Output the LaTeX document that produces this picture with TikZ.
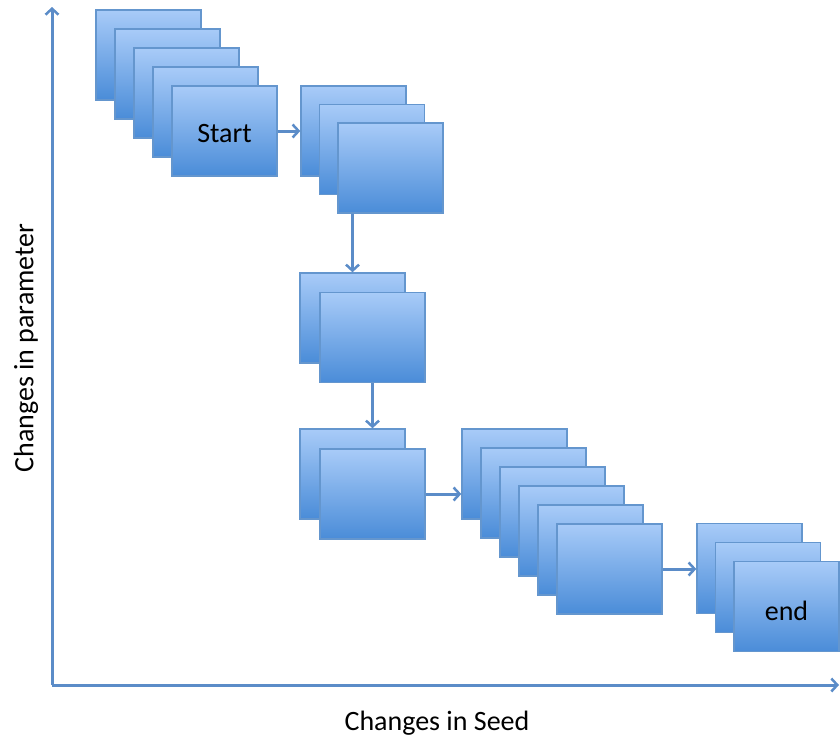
\documentclass[tikz,border=0pt]{standalone}
\usepackage{fontspec}
\setmainfont{Carlito}
\usetikzlibrary{arrows.meta,positioning}
\definecolor{boxtop}{HTML}{A8CBF8}
\definecolor{boxbot}{HTML}{4A8CD8}
\definecolor{boxline}{HTML}{6496CE}
\definecolor{axisblue}{HTML}{5B8CC8}
\begin{document}
\begin{tikzpicture}
        [x=1pt,y=-1pt,
         frame/.style={draw=boxline, line width=1.4pt, top color=boxtop,
           bottom color=boxbot, minimum width=105pt, minimum height=90pt,
           inner sep=0pt},
         flow/.style={draw=axisblue, line width=3pt,
           -{Straight Barb[length=6pt,width=13pt,line width=2.5pt]}},
         label/.style={font=\fontsize{28}{31}\selectfont}]
        \useasboundingbox (0,0) rectangle (840,740);
        % axes
        \coordinate (origin) at (52,685);
        \coordinate (ytop) at (52,7);
        \coordinate (xend) at (839,685);
        \draw[flow] (origin) -- (ytop);
        \draw[flow] (origin) -- (xend);
        \node[label] (xlab) at (437,723) {Changes in Seed};
        \node[label, rotate=90] (ylab) at (26,348) {Changes in parameter};
        % stacks of frames
        \foreach \i in {0,...,4}
          \node[frame] (a\i) at ({148.5+19*\i},{55+19*\i}) {};
        \node[label] (start) at ([yshift=-3pt]a4.center) {Start};
        \foreach \i in {0,...,2}
          \node[frame] (b\i) at ({353.5+18.5*\i},{131+18.5*\i}) {};
        \foreach \i in {0,1}
          \node[frame] (c\i) at ({352.5+20*\i},{318+19.5*\i}) {};
        \foreach \i in {0,1}
          \node[frame] (d\i) at ({352.5+20*\i},{474+20*\i}) {};
        \foreach \i in {0,...,5}
          \node[frame] (e\i) at ({514.5+19*\i},{474+19*\i}) {};
        \foreach \i in {0,...,2}
          \node[frame] (f\i) at ({749.5+18.5*\i},{568.5+19*\i}) {};
        \node[label] (finish) at ([yshift=-4pt]f2.center) {end};
        % connectors
        \draw[flow] (a4.east) -- (b0.west);
        \draw[flow] (c0 |- b2.south) -- (c0.north);
        \draw[flow] (c1.south) -- (c1 |- d0.north);
        \draw[flow] (d1.east) -- (e0.west |- d1.east);
        \draw[flow] (e5.east) -- (f0.west |- e5.east);
      \end{tikzpicture}
\end{document}
